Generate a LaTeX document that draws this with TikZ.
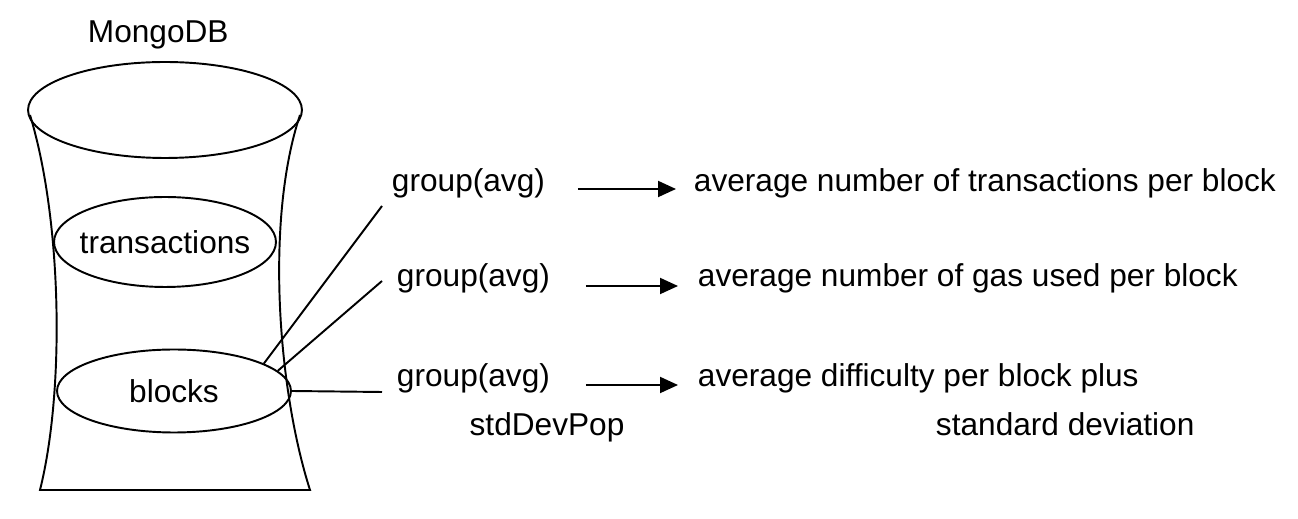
\documentclass[tikz,border=0pt]{standalone}
\usepackage{fontspec}
\setmainfont{Liberation Sans}
\usetikzlibrary{positioning,shapes.geometric,arrows.meta,calc}

\begin{document}
\begin{tikzpicture}[x=0.02cm,y=-0.02cm,line width=1.1pt,
  every node/.style={font=\fontsize{18}{22}\selectfont,inner sep=0pt},
  coll/.style={ellipse,draw,inner xsep=-0.2cm,inner ysep=0pt},
  lbl/.style={anchor=base west},
  res/.style={-{Triangle[length=0.36cm,width=0.32cm]}}]
  \useasboundingbox (0,0) rectangle (1298,519);
  % the database
  \draw (165,110) ellipse [x radius=2.74cm,y radius=0.96cm];
  \draw (30,115) .. controls (62,220) and (65,390) .. (40,490)
    -- (310,490) .. controls (278,390) and (265,220) .. (300,115);
  \node[lbl] (db) at (87,43) {MongoDB};
  \node[coll,minimum width=4.44cm,minimum height=1.8cm] (trans) at (165,242) {transactions};
  \node[coll,minimum width=4.68cm,minimum height=1.66cm] (blocks) at (174,391) {blocks};
  % the pipelines
  \node[lbl] (g1) at (391,192) {group(avg)};
  \node[lbl] (g2) at (396,287) {group(avg)};
  \node[lbl] (g3) at (396,387) {group(avg)};
  \node[anchor=base] (sd) at (547,436) {stdDevPop};
  \coordinate (e1) at (382,206);
  \coordinate (e2) at (382,281);
  \coordinate (e3) at (382,392);
  \draw (blocks.17) -- (e1);
  \draw (blocks.11) -- (e2);
  \draw (blocks.east) -- (e3);
  % the results
  \node[lbl] (r1) at (693,192) {average number of transactions per block};
  \node[lbl] (r2) at (697,287) {average number of gas used per block};
  \node[lbl] (r3) at (697,387) {average difficulty per block plus};
  \node[lbl] (r4) at (935,436) {standard deviation};
  \draw[res] ($(g1.base east)+(32,-3)$) -- ($(r1.base west)+(-17,-3)$);
  \draw[res] ($(g2.base east)+(35,-1)$) -- ($(r2.base west)+(-19,-1)$);
  \draw[res] ($(g3.base east)+(35,-2)$) -- ($(r3.base west)+(-19,-2)$);
\end{tikzpicture}
\end{document}
